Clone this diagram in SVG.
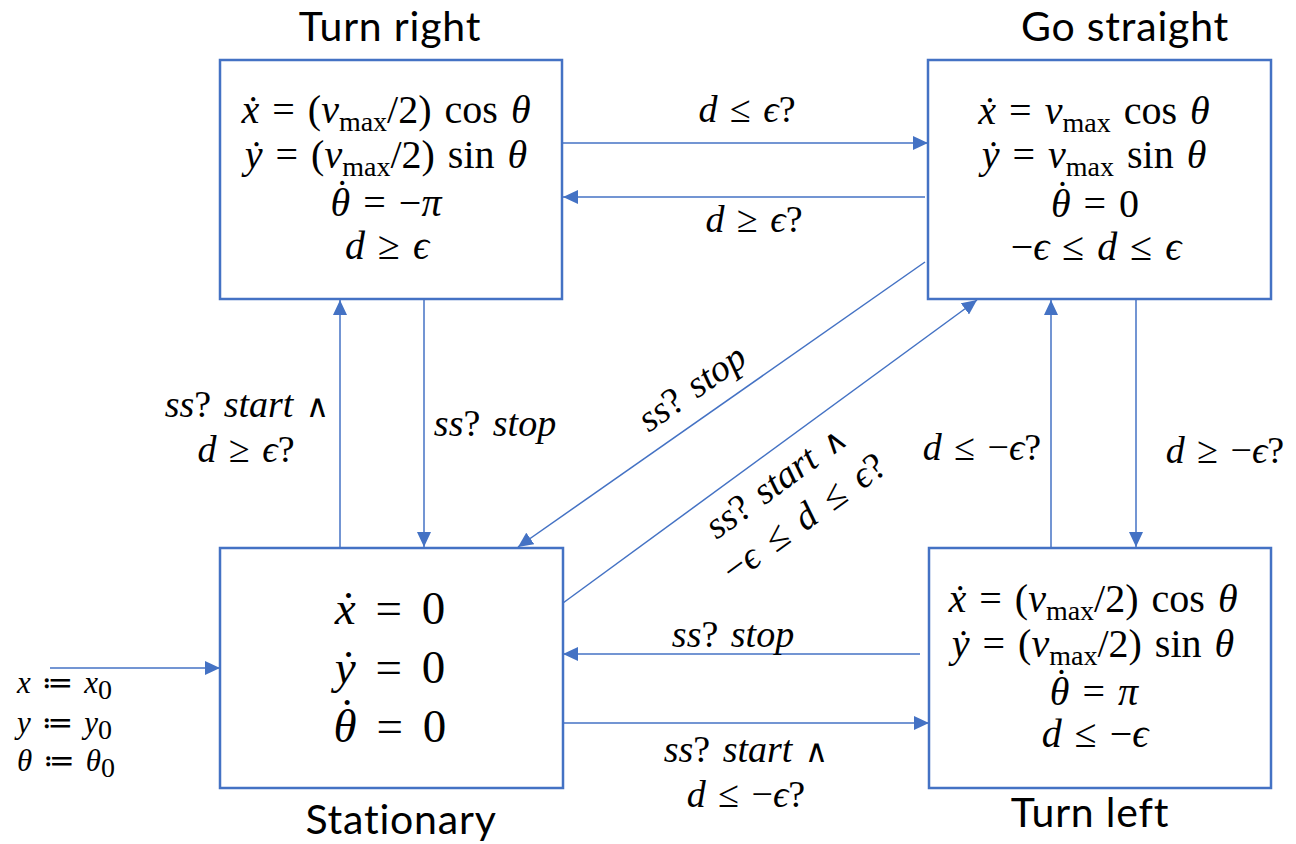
<svg xmlns="http://www.w3.org/2000/svg" width="1296" height="844" viewBox="0 0 1296 844">
<style>
.box{fill:#fff;stroke:#4472C4;stroke-width:2.5}
.edge{stroke:#4472C4;stroke-width:1.5;fill:none;marker-end:url(#ah)}
.title{font-family:Lato,"Open Sans",sans-serif;font-size:41px;letter-spacing:0.8px;fill:#000;text-anchor:middle}
.m{font-family:"Liberation Serif","DejaVu Serif",serif;font-size:40px;fill:#000;text-anchor:middle;word-spacing:3px}
.big{font-size:47px;word-spacing:8px}
.init{font-size:31px;text-anchor:start}
.lb{font-size:38px}
.i{font-style:italic}
.sub{font-size:28px;font-style:normal}
.and{font-family:"DejaVu Sans",sans-serif;font-weight:normal;font-style:normal;font-size:32px}
</style>
<defs>
<marker id="ah" viewBox="0 0 15 14" refX="15" refY="7" markerWidth="15" markerHeight="14" markerUnits="userSpaceOnUse" orient="auto">
<path d="M0,0 L15,7 L0,14 z" fill="#4472C4"/>
</marker>
</defs>
<rect width="1296" height="844" fill="#fff"/>

<g id="edges">
<line class="edge" x1="562" y1="143" x2="928" y2="143"/>
<line class="edge" x1="925" y1="197" x2="563" y2="197"/>
<line class="edge" x1="340" y1="547" x2="340" y2="300"/>
<line class="edge" x1="424" y1="300" x2="424" y2="547"/>
<line class="edge" x1="925" y1="262" x2="518" y2="547"/>
<line class="edge" x1="563" y1="603" x2="977" y2="300"/>
<line class="edge" x1="1051" y1="547" x2="1051" y2="300"/>
<line class="edge" x1="1136" y1="300" x2="1136" y2="547"/>
<line class="edge" x1="920" y1="654" x2="563" y2="654"/>
<line class="edge" x1="563" y1="723" x2="929" y2="723"/>
<line class="edge" x1="50" y1="668" x2="220" y2="668"/>
</g>

<g id="edge-labels">
<text class="m lb" x="747" y="122"><tspan class="i">d</tspan> ≤ <tspan class="i">ϵ</tspan>?</text>
<text class="m lb" x="754" y="232"><tspan class="i">d</tspan> ≥ <tspan class="i">ϵ</tspan>?</text>
<text class="m lb" x="247" y="417"><tspan class="i">ss</tspan>? <tspan class="i">start</tspan> <tspan class="and">∧</tspan></text>
<text class="m lb" x="246" y="462"><tspan class="i">d</tspan> ≥ <tspan class="i">ϵ</tspan>?</text>
<text class="m lb" x="495" y="436"><tspan class="i">ss</tspan>? <tspan class="i">stop</tspan></text>
<text class="m lb" x="982" y="460"><tspan class="i">d</tspan> ≤ −<tspan class="i">ϵ</tspan>?</text>
<text class="m lb" x="1225" y="463"><tspan class="i">d</tspan> ≥ −<tspan class="i">ϵ</tspan>?</text>
<text class="m lb" x="733" y="647"><tspan class="i">ss</tspan>? <tspan class="i">stop</tspan></text>
<text class="m lb" x="746" y="762"><tspan class="i">ss</tspan>? <tspan class="i">start</tspan> <tspan class="and">∧</tspan></text>
<text class="m lb" x="746" y="807"><tspan class="i">d</tspan> ≤ −<tspan class="i">ϵ</tspan>?</text>
<g transform="translate(692,388) rotate(-35)">
<text class="m lb" x="0" y="12"><tspan class="i">ss</tspan>? <tspan class="i">stop</tspan></text>
</g>
<g transform="translate(776,482) rotate(-36)">
<text class="m lb" x="0" y="12"><tspan class="i">ss</tspan>? <tspan class="i">start</tspan> <tspan class="and">∧</tspan></text>
</g>
<g transform="translate(804,518) rotate(-36)">
<text class="m lb" x="0" y="12" style="word-spacing:6px">−<tspan class="i">ϵ</tspan> ≤ <tspan class="i">d</tspan> ≤ <tspan class="i">ϵ</tspan>?</text>
</g>
</g>

<g id="turn-right">
<rect class="box" x="220" y="60" width="342" height="239"/>
<text class="title" x="390" y="41">Turn right</text>
<text class="m" x="386" y="123"><tspan class="i">x&#x307;</tspan> = (<tspan class="i">v</tspan><tspan class="sub" dy="8">max</tspan><tspan dy="-8">/2) cos </tspan><tspan class="i">θ</tspan></text>
<text class="m" x="386" y="168"><tspan class="i">y&#x307;</tspan> = (<tspan class="i">v</tspan><tspan class="sub" dy="8">max</tspan><tspan dy="-8">/2) sin </tspan><tspan class="i">θ</tspan></text>
<text class="m" x="386" y="216"><tspan class="i">θ</tspan><tspan dx="-14.7" dy="-9">˙</tspan><tspan dx="1.4" dy="9"> = −</tspan><tspan class="i">π</tspan></text>
<text class="m" x="387" y="259"><tspan class="i">d</tspan> ≥ <tspan class="i">ϵ</tspan></text>
</g>

<g id="go-straight">
<rect class="box" x="928" y="60" width="343" height="239"/>
<text class="title" x="1125" y="41">Go straight</text>
<text class="m" x="1094" y="124"><tspan class="i">x&#x307;</tspan> = <tspan class="i">v</tspan><tspan class="sub" dy="8">max</tspan><tspan dy="-8"> cos </tspan><tspan class="i">θ</tspan></text>
<text class="m" x="1094" y="168"><tspan class="i">y&#x307;</tspan> = <tspan class="i">v</tspan><tspan class="sub" dy="8">max</tspan><tspan dy="-8"> sin </tspan><tspan class="i">θ</tspan></text>
<text class="m" x="1095" y="217"><tspan class="i">θ</tspan><tspan dx="-14.7" dy="-9">˙</tspan><tspan dx="1.4" dy="9"> = 0</tspan></text>
<text class="m" x="1096" y="260">−<tspan class="i">ϵ</tspan> ≤ <tspan class="i">d</tspan> ≤ <tspan class="i">ϵ</tspan></text>
</g>

<g id="stationary">
<rect class="box" x="220" y="548" width="343" height="240"/>
<text class="title" x="401" y="834">Stationary</text>
<text class="m big" x="390" y="624"><tspan class="i">x&#x307;</tspan> = 0</text>
<text class="m big" x="390" y="683"><tspan class="i">y&#x307;</tspan> = 0</text>
<text class="m big" x="390" y="742"><tspan class="i">θ</tspan><tspan dx="-17.5" dy="-11">˙</tspan><tspan dx="2" dy="11"> = 0</tspan></text>
</g>

<g id="init-labels">
<text class="m init" x="17" y="693"><tspan class="i">x</tspan> ≔ <tspan class="i">x</tspan><tspan class="sub" font-size="22" dy="6">0</tspan></text>
<text class="m init" x="17" y="733"><tspan class="i">y</tspan> ≔ <tspan class="i">y</tspan><tspan class="sub" font-size="22" dy="6">0</tspan></text>
<text class="m init" x="17" y="771"><tspan class="i">θ</tspan> ≔ <tspan class="i">θ</tspan><tspan class="sub" font-size="22" dy="6">0</tspan></text>
</g>

<g id="turn-left">
<rect class="box" x="929" y="548" width="342" height="240"/>
<text class="title" x="1090" y="827">Turn left</text>
<text class="m" x="1093" y="612"><tspan class="i">x&#x307;</tspan> = (<tspan class="i">v</tspan><tspan class="sub" dy="8">max</tspan><tspan dy="-8">/2) cos </tspan><tspan class="i">θ</tspan></text>
<text class="m" x="1093" y="657"><tspan class="i">y&#x307;</tspan> = (<tspan class="i">v</tspan><tspan class="sub" dy="8">max</tspan><tspan dy="-8">/2) sin </tspan><tspan class="i">θ</tspan></text>
<text class="m" x="1094" y="705"><tspan class="i">θ</tspan><tspan dx="-14.7" dy="-9">˙</tspan><tspan dx="1.4" dy="9"> = </tspan><tspan class="i">π</tspan></text>
<text class="m" x="1095" y="747"><tspan class="i">d</tspan> ≤ −<tspan class="i">ϵ</tspan></text>
</g>
</svg>
